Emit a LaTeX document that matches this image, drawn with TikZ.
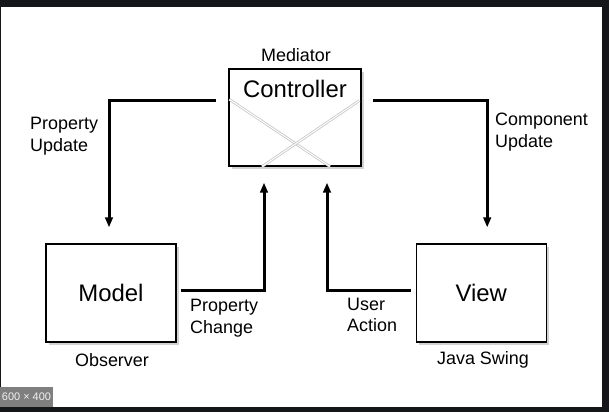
\documentclass[tikz,border=0pt]{standalone}
\usepackage{fontspec}
\setmainfont{Liberation Sans}
\usepackage{tikz}
\usetikzlibrary{arrows.meta,positioning,calc,shadows}

\definecolor{frame}{HTML}{151619}
\definecolor{badge}{HTML}{7F7F7F}

\begin{document}
\begin{tikzpicture}[x=1bp, y=-1bp,
    box/.style={rectangle, draw, line width=1.2bp, fill=white, minimum width=130bp, minimum height=98bp, inner sep=0pt, drop shadow={opacity=0.35, shadow xshift=2.5bp, shadow yshift=-2.5bp}, font=\fontsize{24}{27}\selectfont},
    title/.style={font=\fontsize{24}{27}\selectfont, inner sep=0pt},
    lbl/.style={align=left, font=\fontsize{18}{21.5}\selectfont, inner sep=0pt},
    cross/.style={draw=gray!45, double=white, double distance=1bp, line width=0.8bp},
    arrow/.style={-{Triangle[length=10bp, width=7.5bp]}, line width=3bp}
]

% Frame
\fill[frame] (0,0) rectangle (609,412);
\fill[white] (1,7) rectangle (602,407);
\fill[badge] (0,387) rectangle (53,407);
\node[font=\fontsize{11}{12}\selectfont, text=black!5, inner sep=0pt] (size) at (26.5,397) {600 × 400};

% Controller
\node[box, minimum width=132bp, minimum height=97bp] (ctrl) at (295,117.5) {};
\draw[cross] ($(ctrl.north west)+(1,31)$) -- ($(ctrl.south)+(35,0)$);
\draw[cross] ($(ctrl.north east)+(-2,32)$) -- ($(ctrl.south)+(-33,0)$);
\node[title] (ctrltext) at (295,89) {Controller};
\node[lbl] (mediator) at (296,55) {Mediator};

% Model and View
\node[box] (model) at (111,293) {Model};
\node[box, right=239bp of model] (view) {View};
\node[lbl] (observer) at (112,360) {Observer};
\node[lbl] (swing) at (483,360) {Java Swing};

% Labels
\node[lbl, anchor=west] (propupd) at (30,136) {Property\\Update};
\node[lbl, anchor=west] (compupd) at (495,132) {Component\\Update};
\node[lbl, anchor=west] (propchg) at (190,318) {Property\\Change};
\node[lbl, anchor=west] (useract) at (347,315) {User\\Action};

% Arrows
\draw[arrow, shorten >=16bp] ($(ctrl.west)+(-12,-17.5)$) -| ($(model.north)+(-2,0)$);
\draw[arrow, shorten >=16bp] ($(ctrl.east)+(11,-17.5)$) -| ($(view.north)+(6,0)$);
\draw[arrow, shorten >=16bp] ($(model.east)+(4,-3)$) -| ($(ctrl.south)+(-31,0)$);
\draw[arrow, shorten >=16bp] ($(view.west)+(-5,-3)$) -| ($(ctrl.south)+(32,0)$);

\end{tikzpicture}
\end{document}
